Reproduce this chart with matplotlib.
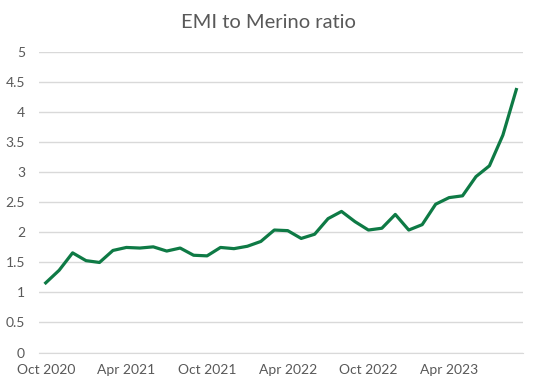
import matplotlib.pyplot as plt
import numpy as np

# monthly ratio, Oct 2020 .. Sep 2023
months = ['Oct 2020', 'Nov 2020', 'Dec 2020', 'Jan 2021', 'Feb 2021', 'Mar 2021',
          'Apr 2021', 'May 2021', 'Jun 2021', 'Jul 2021', 'Aug 2021', 'Sep 2021',
          'Oct 2021', 'Nov 2021', 'Dec 2021', 'Jan 2022', 'Feb 2022', 'Mar 2022',
          'Apr 2022', 'May 2022', 'Jun 2022', 'Jul 2022', 'Aug 2022', 'Sep 2022',
          'Oct 2022', 'Nov 2022', 'Dec 2022', 'Jan 2023', 'Feb 2023', 'Mar 2023',
          'Apr 2023', 'May 2023', 'Jun 2023', 'Jul 2023', 'Aug 2023', 'Sep 2023']
ratio = [1.16, 1.37, 1.66, 1.53, 1.50, 1.70, 1.75, 1.74, 1.76, 1.69, 1.74, 1.62,
         1.61, 1.75, 1.73, 1.77, 1.85, 2.04, 2.03, 1.90, 1.97, 2.23, 2.35, 2.18,
         2.04, 2.07, 2.30, 2.04, 2.13, 2.47, 2.58, 2.61, 2.93, 3.11, 3.62, 4.38]

grey = '#595959'
plt.rcParams['font.family'] = ['Lato', 'DejaVu Sans']

fig = plt.figure(figsize=(5.37, 3.87), dpi=100)
ax = fig.add_axes([0.0726, 0.0891, 0.9014, 0.7757])

x = np.arange(len(months))
ax.plot(x, ratio, color='#0E7A45', linewidth=2.3, solid_joinstyle='round', zorder=3)

ax.set_xlim(-0.5, len(months) - 0.5)
ax.set_ylim(0, 5)
ax.set_yticks(np.arange(0, 5.01, 0.5))
ax.set_yticklabels(['0', '0.5', '1', '1.5', '2', '2.5', '3', '3.5', '4', '4.5', '5'])
ax.set_xticks(x[::6])
ax.set_xticklabels(months[::6])
ax.grid(axis='y', color='#d9d9d9', linewidth=1)
ax.set_axisbelow(True)
for s in ['top', 'right', 'left']:
    ax.spines[s].set_visible(False)
ax.spines['bottom'].set_color('#d9d9d9')
ax.tick_params(length=0, labelsize=10, labelcolor=grey)
ax.tick_params(axis='y', pad=10)
ax.tick_params(axis='x', pad=8)

fig.text(0.5, 0.942, 'EMI to Merino ratio', ha='center', va='center', fontsize=14.5, color=grey)

plt.savefig('out.png', dpi=100)
